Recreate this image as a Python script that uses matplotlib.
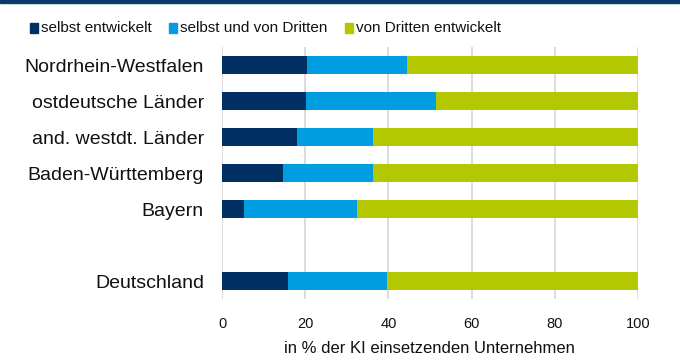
import matplotlib
matplotlib.use("Agg")
import matplotlib.pyplot as plt
from matplotlib.patches import Rectangle

plt.rcParams['font.family'] = ['Liberation Sans', 'DejaVu Sans']

regions = ['Nordrhein-Westfalen', 'ostdeutsche Länder', 'and. westdt. Länder',
           'Baden-Württemberg', 'Bayern', '', 'Deutschland']
selbst = [20.5, 20.2, 18.0, 14.7, 5.3, 0, 15.9]
beides = [24.0, 31.2, 18.3, 21.6, 27.1, 0, 23.7]
dritte = [55.5, 48.6, 63.7, 63.7, 67.6, 0, 60.4]

series = ['selbst entwickelt', 'selbst und von Dritten', 'von Dritten entwickelt']
colors = ['#003063', '#009ee0', '#b3c800']
xticks = [0, 20, 40, 60, 80, 100]

fig = plt.figure(figsize=(6.8, 3.6), dpi=100)
ax = fig.add_axes([0.3265, 0.1694, 0.6115, 0.7000])

# header strip
fig.patches.append(Rectangle((0, 0.991), 1, 0.009, transform=fig.transFigure,
                             color='#0b3a6a', zorder=5))

pos = list(range(len(regions)))
left = [0] * len(regions)
for vals, col in zip([selbst, beides, dritte], colors):
    ax.barh(pos, vals, left=left, height=0.5, color=col, zorder=3)
    left = [l + v for l, v in zip(left, vals)]

ax.set_xlim(0, 100)
ax.set_ylim(len(regions) - 0.5, -0.5)
ax.set_xticks(xticks)
ax.set_yticks(pos)
ax.set_yticklabels(regions, fontsize=14, color='#111111')
ax.tick_params(axis='y', length=0, pad=13)
ax.tick_params(axis='x', length=0, pad=13, labelsize=10.5, labelcolor='#111111')
for x in xticks:
    ax.axvline(x, color='#d9d9d9', lw=1.3, zorder=1)
for s in ax.spines.values():
    s.set_visible(False)
ax.set_xlabel('in % der KI einsetzenden Unternehmen', fontsize=12,
              color='#111111', labelpad=7)

# legend
leg_x = [30, 169, 345]
for name, col, lx in zip(series, colors, leg_x):
    fig.patches.append(Rectangle((lx / 680, 1 - 33 / 360), 8 / 680, 10 / 360,
                                 transform=fig.transFigure, color=col))
    fig.text((lx + 11) / 680, 1 - 28 / 360, name, fontsize=11, color='#111111',
             va='center', ha='left')

fig.savefig('out.png', dpi=100)
